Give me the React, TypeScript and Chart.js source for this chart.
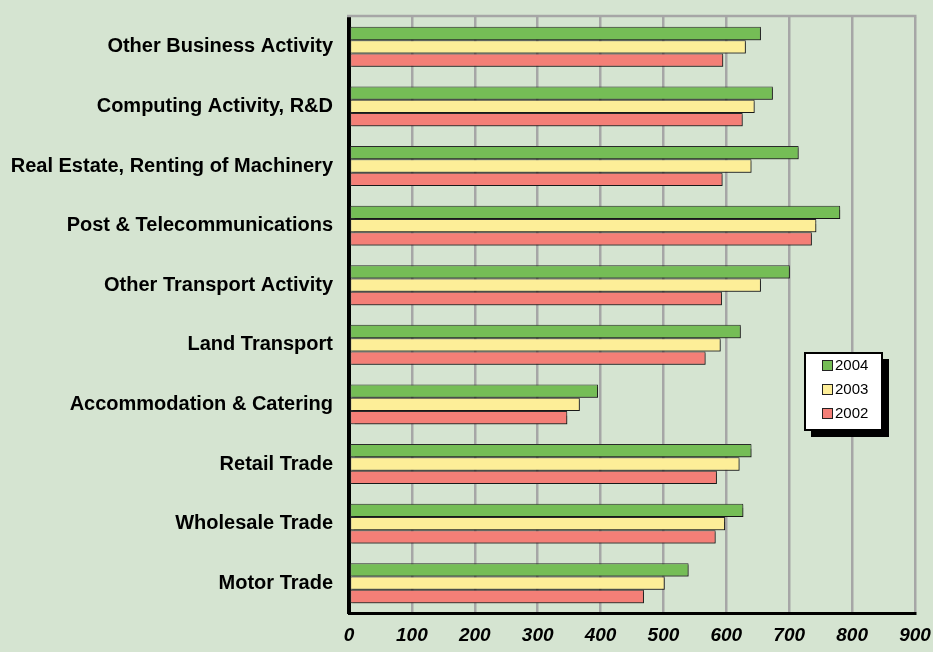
import React, { useEffect, useRef } from "react";
import { Chart, registerables } from "chart.js";

Chart.register(...registerables);

const categories = [
  "Other Business Activity",
  "Computing Activity, R&D",
  "Real Estate, Renting of Machinery",
  "Post & Telecommunications",
  "Other Transport Activity",
  "Land Transport",
  "Accommodation & Catering",
  "Retail Trade",
  "Wholesale Trade",
  "Motor Trade",
];

const values2004 = [655, 674, 715, 781, 701, 623, 396, 640, 627, 540];
const values2003 = [631, 645, 640, 743, 655, 591, 367, 621, 598, 502];
const values2002 = [595, 626, 594, 736, 593, 567, 347, 585, 583, 469];

const seriesLabels = ["2004", "2003", "2002"];
const seriesColors = ["#75BD56", "#FDEE98", "#F47F77"];

const xMin = 0;
const xMax = 900;
const xStep = 100;

const FONT = "'Liberation Sans', Arial, Helvetica, sans-serif";

export default function App() {
  const canvasRef = useRef<HTMLCanvasElement | null>(null);

  useEffect(() => {
    if (!canvasRef.current) return;

    const bgPlugin = {
      id: "bgPlugin",
      beforeDraw(chart: any) {
        const { ctx, width, height } = chart;
        ctx.save();
        ctx.fillStyle = "#D5E4D1";
        ctx.fillRect(0, 0, width, height);
        ctx.restore();
      },
      beforeDatasetsDraw(chart: any) {
        const ctx = chart.ctx;
        ctx.save();
        ctx.shadowColor = "rgba(0,0,0,0.45)";
        ctx.shadowOffsetX = 1.5;
        ctx.shadowOffsetY = 1.5;
        ctx.shadowBlur = 1;
      },
      afterDatasetsDraw(chart: any) {
        chart.ctx.restore();
        const { ctx, chartArea } = chart;
        ctx.save();
        ctx.strokeStyle = "#A6A6A6";
        ctx.lineWidth = 2.5;
        ctx.beginPath();
        ctx.moveTo(chartArea.left - 2, chartArea.top - 1);
        ctx.lineTo(chartArea.right + 1.5, chartArea.top - 1);
        ctx.stroke();
        ctx.restore();
      },
      afterDraw(chart: any) {
        const { ctx } = chart;
        const x = 805;
        const y = 353;
        const w = 77;
        const h = 77;
        ctx.save();
        ctx.fillStyle = "#000";
        ctx.fillRect(x + 6, y + 6, w + 1, h + 1);
        ctx.fillStyle = "#fff";
        ctx.fillRect(x, y, w, h);
        ctx.strokeStyle = "#000";
        ctx.lineWidth = 2;
        ctx.strokeRect(x, y, w, h);
        chart.data.datasets.forEach((ds: any, i: number) => {
          const cy = y + 12 + i * 24;
          ctx.fillStyle = ds.backgroundColor;
          ctx.fillRect(x + 17.5, cy - 4.5, 10, 10);
          ctx.strokeStyle = "#222";
          ctx.lineWidth = 1;
          ctx.strokeRect(x + 17.5, cy - 4.5, 10, 10);
          ctx.fillStyle = "#000";
          ctx.font = `15px ${FONT}`;
          ctx.textBaseline = "middle";
          ctx.textAlign = "left";
          ctx.fillText(ds.label, x + 30, cy + 1);
        });
        ctx.restore();
      },
    };

    const chart = new Chart(canvasRef.current, {
      type: "bar",
      data: {
        labels: categories,
        datasets: [values2004, values2003, values2002].map((vals, i) => ({
          label: seriesLabels[i],
          data: vals,
          backgroundColor: seriesColors[i],
          borderColor: "#2a2a2a",
          borderWidth: 1,
          borderSkipped: false,
          categoryPercentage: 0.67,
          barPercentage: 1,
        })),
      },
      options: {
        indexAxis: "y",
        animation: false,
        responsive: true,
        maintainAspectRatio: false,
        layout: { padding: { top: 17, right: 18, left: 0, bottom: 0 } },
        plugins: {
          legend: { display: false },
          tooltip: { enabled: false },
        },
        scales: {
          x: {
            min: xMin,
            max: xMax,
            afterFit(scale: any) {
              scale.height = 39;
              scale.paddingLeft = 0;
              scale.paddingRight = 0;
            },
            ticks: {
              stepSize: xStep,
              color: "#000",
              padding: 11,
              font: { family: FONT, size: 19, weight: "bold", style: "italic" },
            },
            grid: {
              color: "#A6A6A6",
              lineWidth: 2.5,
              drawTicks: false,
            },
            border: { display: true, color: "#000", width: 3 },
          },
          y: {
            z: 1,
            afterFit(scale: any) {
              scale.width = 349;
              scale.paddingTop = 0;
              scale.paddingBottom = 0;
            },
            ticks: {
              color: "#000",
              padding: 16,
              font: { family: FONT, size: 20, weight: "bold" },
            },
            grid: { display: false, drawTicks: false },
            border: { display: true, color: "#000", width: 4 },
          },
        },
      },
      plugins: [bgPlugin],
    });

    return () => chart.destroy();
  }, []);

  return (
    <div
      style={{
        position: "fixed",
        left: 0,
        top: 0,
        width: 933,
        height: 652,
        background: "#D5E4D1",
      }}
    >
      <canvas ref={canvasRef} />
    </div>
  );
}
